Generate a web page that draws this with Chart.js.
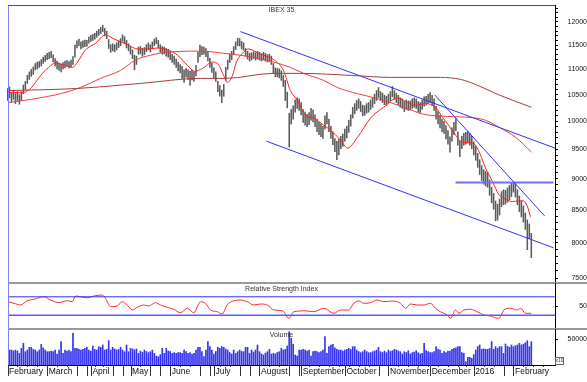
<!DOCTYPE html>
<html>
<head>
<meta charset="utf-8">
<script src="https://cdn.jsdelivr.net/npm/chart.js@4.4.1/dist/chart.umd.min.js"></script>
<style>
  body { margin: 0; background: #fff; }
  #wrap { position: relative; width: 587px; height: 382px; }
  #wrap div { position: absolute; left: 0; width: 587px; }
</style>
</head>
<body>
<div id="wrap">
  <div style="top:0;height:284px"><canvas id="price"></canvas></div>
  <div style="top:283px;height:47px"><canvas id="rsi"></canvas></div>
  <div style="top:329px;height:53px"><canvas id="volume"></canvas></div>
</div>
<script>
// IBEX 35 daily bars, Feb 2 2015 .. Feb 11 2016 (one entry per trading day)
const lows = [
  10390, 10440, 10360, 10410, 10330, 10390, 10320, 10400, 10520, 10600,
  10720, 10800, 10860, 10900, 10990, 11010, 11040, 11070, 11120, 11160,
  11200, 11220, 11240, 11150, 11070, 11010, 10980, 10950, 11010, 11030,
  11060, 11030, 11050, 11100, 11250, 11440, 11490, 11420, 11450, 11470,
  11480, 11540, 11580, 11600, 11630, 11670, 11710, 11750, 11790, 11700,
  11640, 11430, 11350, 11380, 11360, 11400, 11450, 11490, 11580, 11530,
  11440, 11380, 11310, 11220, 10990, 11100, 11310, 11320, 11270, 11300,
  11360, 11400, 11360, 11420, 11490, 11530, 11440, 11350, 11310, 11320,
  11270, 11250, 11200, 11140, 11100, 11040, 10970, 10930, 10820, 10740,
  10850, 10800, 10680, 10790, 10760, 10870, 11140, 11260, 11300, 11310,
  11260, 11170, 11040, 10940, 10830, 10760, 10560, 10470, 10350, 10470,
  10780, 11000, 11140, 11200, 11300, 11410, 11490, 11480, 11420, 11390,
  11270, 11210, 11170, 11190, 11220, 11190, 11210, 11190, 11170, 11190,
  11170, 11150, 11160, 11100, 10920, 10850, 10850, 10830, 10780, 10660,
  10390, 10250, 9540, 9950, 10040, 10170, 10240, 10200, 10120, 9980,
  9930, 9900, 9940, 10020, 9990, 9900, 9810, 9760, 9720, 9690,
  9860, 9950, 9810, 9690, 9580, 9460, 9320, 9400, 9510, 9550,
  9640, 9700, 9800, 9910, 10060, 10140, 10200, 10240, 10180, 10100,
  10110, 10150, 10170, 10220, 10260, 10330, 10390, 10450, 10390, 10350,
  10310, 10300, 10340, 10390, 10460, 10410, 10350, 10310, 10260, 10240,
  10180, 10220, 10200, 10210, 10240, 10260, 10240, 10180, 10160, 10220,
  10280, 10300, 10340, 10350, 10300, 10200, 10040, 9950, 9880, 9810,
  9780, 9680, 9590, 9450, 9640, 9760, 9830, 9570, 9370, 9510,
  9570, 9590, 9610, 9570, 9510, 9400, 9310, 9190, 9070, 8970,
  8910, 8880, 8860, 8730, 8610, 8510, 8330, 8340, 8420, 8550,
  8580, 8590, 8620, 8660, 8710, 8780, 8700, 8580, 8470, 8390,
  8310, 8200, 7900, 8063, 7786
];
const highs = [
  10620, 10650, 10540, 10590, 10520, 10560, 10500, 10560, 10690, 10760,
  10880, 10950, 11000, 11050, 11120, 11150, 11160, 11200, 11250, 11290,
  11330, 11350, 11370, 11300, 11220, 11170, 11130, 11110, 11140, 11170,
  11180, 11160, 11190, 11260, 11500, 11590, 11630, 11570, 11590, 11610,
  11600, 11670, 11710, 11730, 11750, 11800, 11840, 11880, 11930, 11860,
  11800, 11620, 11510, 11530, 11510, 11550, 11590, 11640, 11720, 11680,
  11600, 11530, 11470, 11400, 11290, 11270, 11460, 11470, 11430, 11450,
  11510, 11550, 11510, 11570, 11630, 11660, 11600, 11510, 11470, 11460,
  11430, 11410, 11370, 11310, 11270, 11210, 11150, 11100, 11060, 10990,
  11020, 10990, 10960, 10990, 10950, 11080, 11350, 11500, 11470, 11460,
  11430, 11350, 11230, 11130, 11030, 10950, 10760, 10680, 10590, 10700,
  11040, 11190, 11310, 11370, 11470, 11570, 11650, 11640, 11580, 11550,
  11430, 11370, 11330, 11340, 11360, 11340, 11370, 11350, 11320, 11350,
  11330, 11300, 11310, 11270, 11120, 11030, 11020, 11010, 10970, 10880,
  10780, 10550, 10150, 10220, 10290, 10400, 10440, 10420, 10350, 10220,
  10170, 10130, 10160, 10240, 10210, 10120, 10040, 9980, 9950, 9910,
  10100, 10160, 10040, 9910, 9810, 9690, 9640, 9680, 9730, 9770,
  9860, 9910, 10020, 10120, 10260, 10330, 10390, 10420, 10370, 10300,
  10290, 10330, 10350, 10400, 10440, 10510, 10580, 10640, 10560, 10530,
  10490, 10470, 10510, 10560, 10660, 10580, 10530, 10490, 10440, 10420,
  10370, 10400, 10380, 10380, 10420, 10440, 10420, 10370, 10350, 10400,
  10460, 10470, 10510, 10540, 10490, 10420, 10280, 10180, 10110, 10040,
  10000, 9920, 9830, 9720, 9880, 9980, 10050, 9810, 9650, 9730,
  9780, 9800, 9820, 9780, 9730, 9630, 9550, 9430, 9320, 9220,
  9150, 9120, 9100, 8980, 8860, 8760, 8640, 8590, 8670, 8790,
  8820, 8810, 8850, 8890, 8930, 8940, 8920, 8820, 8720, 8640,
  8560, 8450, 8344, 8282, 8141
];
const volumes = [
  44900, 28800, 28800, 27000, 28800, 26900, 22400, 32100, 41700, 25600,
  28800, 34000, 34000, 30000, 28800, 25600, 28800, 39700, 33000, 28800,
  25600, 25600, 27000, 25600, 28800, 21200, 28800, 44900, 22400, 28800,
  27000, 28800, 25600, 60900,
  32100, 32100, 30000, 28800, 30100, 32100, 34000, 28800, 27000, 36500,
  30000, 28800, 35300, 34000, 38500, 28800, 30100, 46800, 28800, 34000,
  31000, 28800, 30000, 34000, 28800, 25600, 38500, 25600, 32100, 30800,
  29000, 30800, 22400, 26900, 24500, 28800, 26000, 23700, 25600, 28800,
  22400, 17300, 16000, 20000, 32100, 22400, 32100, 27000, 26000, 22400,
  23700, 22400, 23700, 24000, 22400, 28800, 25600, 22400, 24000, 21200,
  22400, 28800, 34000, 34000, 25600, 16000, 28800, 44900,
  35300, 28800, 21200, 26000, 34000, 32100, 35300, 34000, 30800, 28800,
  24000, 21200, 28800, 22400, 25600, 28800, 26000, 25600, 34000, 34000,
  22400, 28800, 25000, 28800, 38500, 25600, 21200, 19200, 23000, 25600,
  30100, 21200, 22400, 21200, 24000, 25600, 32100, 28800, 30000, 36500,
  64100, 51300, 40000, 19200, 17300, 28800,
  28800, 30100, 28800, 27000, 28800, 17300, 25600, 26900, 25600, 24000,
  25600, 28800, 54500,
  22400, 35300, 38500, 39700, 33000, 30100, 28800, 28800, 27000, 28800,
  30100, 32100, 30000, 35300, 35300, 28800, 26000, 23700, 25600, 28800,
  26000, 23700, 23700, 25600, 27000, 28800, 34000, 25600, 24000, 26900,
  23700, 28800, 26000, 27600, 30100, 28800, 27000, 25600, 21200, 25600,
  24000, 27600, 21200, 23700, 25000, 27600, 23700, 21200, 22400,
  41700,
  27600, 25600, 24000, 23700, 25600, 35300, 30000, 28800, 22400, 25600,
  24000, 26900, 26900, 30100, 32100, 33000, 35300, 35300, 23700, 22400,
  6400,
  14700, 14700, 12800, 20000, 28800, 35300, 38500, 30100, 31000, 30100,
  30100, 32100, 44900,
  30100, 35300, 32000, 35300, 35300, 22400, 40400, 36000, 34000, 38500,
  35300, 37000, 38500, 41700, 38500, 40000, 42900, 46800, 35300, 44900
];

// moving averages: day index / value
const maShortX = [0.5, 7.6, 11.6, 14.1, 17.6, 20.7, 24.2, 29.2, 32.8, 35.3, 39.3, 44.4, 49.4, 52.9, 57, 61, 65.5, 70.6, 75.6, 80.6, 85.7, 90.7, 94.3, 98.3, 103.3, 106.3, 108.9, 110.9, 113.4, 115.4, 118.4, 121.5, 126.5, 131.6, 135.1, 139.1, 142.6, 146.2, 150.2, 154.2, 159.3, 162.8, 167.9, 171.4, 176.4, 183, 189.5, 196.6, 201.6, 205.6, 210.7, 215.7, 219.3, 222.3, 225.8, 229.3, 234.4, 237.4, 240.9, 244.5, 247.5, 251, 254.5, 257.6, 260.1, 262.1, 263.6];
const maShortY = [10540, 10540, 10620, 10740, 10920, 11040, 11130, 11080, 11040, 11150, 11400, 11540, 11720, 11650, 11570, 11500, 11420, 11420, 11440, 11400, 11290, 11080, 10960, 11020, 11150, 11100, 10880, 10740, 10880, 11150, 11330, 11420, 11330, 11250, 11170, 10980, 10580, 10390, 10110, 10060, 9930, 9840, 9660, 9520, 9710, 10060, 10260, 10440, 10350, 10300, 10330, 10260, 10070, 9930, 9750, 9620, 9610, 9480, 9180, 8950, 8750, 8670, 8630, 8640, 8640, 8550, 8390];
const maMidX = [0.5, 11.6, 26.7, 36.8, 46.9, 57, 64.5, 72.1, 79.6, 97.3, 108.9, 126, 142.6, 149.2, 159.3, 166.3, 176.4, 188, 200.6, 209.7, 221.8, 233.4, 240.9, 248.5, 256, 264.1];
const maMidY = [10350, 10410, 10520, 10640, 10820, 10980, 11190, 11290, 11350, 11375, 11330, 11230, 11040, 10920, 10780, 10640, 10520, 10410, 10250, 10130, 10090, 10070, 10020, 9875, 9714, 9450];
const maLongX = [0.5, 34.3, 67, 97.3, 109.9, 134.1, 147.7, 172.9, 193, 218.2, 228.3, 235.9, 247.5, 264.1];
const maLongY = [10580, 10620, 10720, 10820, 10820, 10920, 10920, 10880, 10840, 10840, 10800, 10700, 10500, 10260];

// hand drawn trend lines: [x0, x1] / [y0, y1]
const trendUpperX = [117.4, 276.2], trendUpperY = [11790, 9517];
const trendLowerX = [130.5, 275.2], trendLowerY = [9642, 7928];
const trendSteepX = [215.2, 270.7], trendSteepY = [10500, 8406];
const levelX = [225.8, 275.2], levelY = [8938, 8938];

// RSI
const rsiX = [0.15, 3.2, 6.6, 9.9, 13.3, 18.3, 21.7, 25.9, 30.1, 32.6, 34.3, 36.8, 40.2, 43.5, 47.7, 49.4, 51.9, 55.3, 57.8, 60.3, 62.9, 65.4, 68.7, 71.2, 74.6, 77.1, 80.5, 83.8, 87.2, 90.6, 93.9, 97.3, 99.8, 102.3, 105.7, 108.2, 110.7, 114.1, 117.4, 120.8, 124.1, 127.5, 130.9, 134.2, 138.5, 141.8, 144.3, 147.7, 149.3, 154.4, 159.4, 164.5, 167.8, 172, 174.5, 177.1, 179.6, 183, 186.3, 189.7, 193.9, 198.1, 200.6, 203.1, 206.5, 209.8, 213.2, 215.7, 218.2, 221.6, 223.3, 225.8, 227.5, 230, 233.4, 236.7, 240.1, 243.4, 246.8, 248.1, 250.2, 253.5, 256.9, 258.6, 261.1, 264];
const rsiY = [59.3, 55.9, 52.2, 61.5, 64.6, 70.2, 63, 57.2, 61.5, 59.3, 71.7, 70.2, 68, 71.7, 73.9, 66.7, 48.5, 50, 59.3, 52.2, 41.3, 47.2, 52.2, 50, 57.2, 52.2, 47.2, 42.8, 35.4, 45, 35.4, 59.3, 55.9, 41.3, 37.6, 32.6, 52.2, 61.5, 63, 59.3, 52.2, 54.3, 52.2, 41.3, 39.8, 23.3, 37.6, 39.1, 39.8, 37.6, 45, 34.1, 41.3, 41.3, 55.9, 60.9, 55.9, 57.2, 63, 59.3, 60.9, 55.9, 45, 54.3, 52.2, 52.2, 55.9, 45, 37.6, 30.4, 23.3, 41.3, 34.1, 41.3, 42.8, 37.6, 30.4, 28.3, 23.3, 24.6, 41.3, 45, 41.3, 45, 34.1, 34.1];
const rsiLevels = [70, 30];

// axes
const priceLabels = [7500, 8000, 8500, 9000, 9500, 10000, 10500, 11000, 11500, 12000];
const rsiLabels = [50];
const volumeLabels = [50000];
const monthTicks = [0, 20, 42, 62, 82, 104, 127, 148, 170, 192, 213, 235, 255];
const monthLabels = ['February', 'March', 'April', 'May', 'June', 'July', 'August', 'September', 'October', 'November', 'December', '2016', 'February'];
const weekTicks = [0, 5, 10, 15, 20, 25, 30, 35, 40, 44, 48, 53, 58, 62, 67, 72, 77, 82, 87, 92, 97, 102, 107, 112, 117, 122, 127, 132, 137, 142, 147, 152, 157, 162, 167, 172, 177, 182, 187, 192, 197, 202, 207, 212, 217, 222, 227, 231, 235, 240, 245, 250, 255, 260, 265, 270];

const xMin = 0.25, xMax = 275.95;
const FONT = "'Liberation Sans', Arial, sans-serif";
Chart.defaults.font.family = FONT;
Chart.defaults.animation = false;

function pts(xs, ys) {
  return xs.map((x, k) => ({ x: x, y: ys[k] }));
}

function line(xs, ys, color, width) {
  return {
    type: 'line', data: pts(xs, ys), borderColor: color, borderWidth: width || 1,
    pointRadius: 0, cubicInterpolationMode: 'monotone', fill: false
  };
}

function hiddenX() {
  return { type: 'linear', display: false, min: xMin, max: xMax, offset: false };
}

function rightAxis(extra) {
  return Object.assign({
    position: 'right',
    afterFit: (axis) => { axis.width = 32; axis.paddingTop = 0; axis.paddingBottom = 0; },
    grid: { drawOnChartArea: false, tickLength: 3, color: '#000' },
    border: { color: '#000' },
  }, extra);
}

// frame, separators and panel titles
function framePlugin(opts) {
  return {
    id: 'frame',
    beforeDraw(chart) {
      if (!opts.weekTicks) return;
      const { ctx, chartArea: a } = chart;
      const x = chart.scales.x;
      ctx.save();
      ctx.strokeStyle = '#333';
      ctx.lineWidth = 1;
      weekTicks.forEach((w) => {
        const px = Math.round(x.getPixelForValue(w)) + 0.5;
        ctx.beginPath(); ctx.moveTo(px, a.bottom); ctx.lineTo(px, a.bottom + 11); ctx.stroke();
      });
      ctx.restore();
    },
    afterDraw(chart) {
      const { ctx, chartArea: a } = chart;
      ctx.save();
      ctx.lineWidth = 1;
      ctx.strokeStyle = '#8080ff';
      ctx.beginPath(); ctx.moveTo(a.left + 0.5, a.top); ctx.lineTo(a.left + 0.5, a.bottom); ctx.stroke();
      if (opts.topLine) {
        ctx.strokeStyle = '#3c3cff';
        ctx.beginPath(); ctx.moveTo(a.left, a.top + 0.5); ctx.lineTo(a.right, a.top + 0.5); ctx.stroke();
      }
      if (opts.bottomSep) {
        ctx.strokeStyle = '#9a9a9a';
        ctx.lineWidth = 2;
        ctx.beginPath(); ctx.moveTo(a.left, a.bottom); ctx.lineTo(chart.width, a.bottom); ctx.stroke();
        ctx.lineWidth = 1;
      }
      if (opts.weekTicks) {
        const x = chart.scales.x;
        ctx.strokeStyle = '#333';
        monthTicks.forEach((m) => {
          const px = Math.round(x.getPixelForValue(m)) + 0.5;
          ctx.beginPath(); ctx.moveTo(px, a.bottom); ctx.lineTo(px, a.bottom + 11); ctx.stroke();
        });
        // "x10" multiplier box
        ctx.strokeStyle = '#666';
        ctx.strokeRect(a.right + 0.5, a.bottom - 7.5, 8, 7);
        ctx.fillStyle = '#333';
        ctx.font = '5px ' + FONT;
        ctx.textAlign = 'center';
        ctx.textBaseline = 'middle';
        ctx.fillText('x10', a.right + 4.5, a.bottom - 4);
      }
      if (opts.title) {
        ctx.fillStyle = '#333';
        ctx.font = '7px ' + FONT;
        ctx.textAlign = 'center';
        ctx.textBaseline = 'middle';
        ctx.fillText(opts.title, (a.left + a.right) / 2, a.top + opts.titleY);
      }
      ctx.restore();
    }
  };
}

// price panel
new Chart(document.getElementById('price'), {
  type: 'bar',
  data: {
    datasets: [
      line(trendUpperX, trendUpperY, '#3030ff'),
      line(trendLowerX, trendLowerY, '#3030ff'),
      line(trendSteepX, trendSteepY, '#3030ff'),
      line(levelX, levelY, '#7070ff', 2),
      line(maLongX, maLongY, '#a33c3c'),
      line(maMidX, maMidY, '#f03c3c'),
      line(maShortX, maShortY, '#ff1e1e'),
      {
        type: 'bar', data: lows.map((lo, i) => ({ x: i, y: [lo, highs[i]] })),
        backgroundColor: '#5a5a5a', barThickness: 0.9, clip: 1
      }
    ]
  },
  options: {
    responsive: true, maintainAspectRatio: false,
    layout: { padding: { left: 8, top: 5, right: 0, bottom: 1 } },
    plugins: { legend: { display: false }, tooltip: { enabled: false } },
    scales: {
      x: hiddenX(),
      y: rightAxis({
        type: 'logarithmic', min: 7432, max: 12380,
        afterBuildTicks: (axis) => {
          const t = [];
          for (let v = 7500; v <= 12300; v += 100) t.push({ value: v });
          axis.ticks = t;
        },
        ticks: {
          autoSkip: false, crossAlign: 'far', padding: 2.5, color: '#111', font: { size: 7 },
          callback: (v) => (priceLabels.includes(v) ? String(v) : '')
        }
      })
    }
  },
  plugins: [framePlugin({ topLine: true, bottomSep: true, title: 'IBEX 35', titleY: 5 })]
});

// RSI panel
new Chart(document.getElementById('rsi'), {
  type: 'line',
  data: {
    datasets: [
      line([xMin, xMax], [rsiLevels[0], rsiLevels[0]], '#3030ff'),
      line([xMin, xMax], [rsiLevels[1], rsiLevels[1]], '#5a5aff', 1.5),
      line(rsiX, rsiY, '#ff2a2a')
    ]
  },
  options: {
    responsive: true, maintainAspectRatio: false,
    layout: { padding: { left: 8, top: 0, right: 0, bottom: 1 } },
    plugins: { legend: { display: false }, tooltip: { enabled: false } },
    scales: {
      x: hiddenX(),
      y: rightAxis({
        type: 'linear', min: 0, max: 100,
        afterBuildTicks: (axis) => { axis.ticks = rsiLabels.map((v) => ({ value: v })); },
        ticks: { crossAlign: 'far', padding: 14.2, color: '#111', font: { size: 7 } }
      })
    }
  },
  plugins: [framePlugin({ bottomSep: true, title: 'Relative Strength Index', titleY: 6.3 })]
});

// volume panel with the date axis
new Chart(document.getElementById('volume'), {
  type: 'bar',
  data: {
    datasets: [{
      data: volumes.map((v, i) => ({ x: i, y: v })),
      backgroundColor: '#3434f2', barThickness: 1
    }]
  },
  options: {
    responsive: true, maintainAspectRatio: false,
    layout: { padding: { left: 8, top: 0, right: 0, bottom: 0 } },
    plugins: { legend: { display: false }, tooltip: { enabled: false } },
    scales: {
      x: {
        type: 'linear', min: xMin, max: xMax, offset: false,
        afterBuildTicks: (axis) => { axis.ticks = monthTicks.map((m) => ({ value: m + 0.8 })); },
        afterFit: (axis) => { axis.height = 17; axis.paddingLeft = 0; axis.paddingRight = 0; },
        grid: { display: false, drawTicks: false },
        border: { display: true, color: '#000' },
        ticks: {
          autoSkip: false, maxRotation: 0, align: 'start', padding: 2, color: '#111',
          font: { size: 8.5 },
          showLabelBackdrop: true, backdropColor: '#fff',
          backdropPadding: { left: 1, right: 1, top: 0, bottom: 0 },
          callback: (v, idx) => monthLabels[idx]
        }
      },
      y: rightAxis({
        type: 'linear', min: 0, max: 69231,
        afterBuildTicks: (axis) => { axis.ticks = volumeLabels.map((v) => ({ value: v })); },
        ticks: { crossAlign: 'far', padding: 2.5, color: '#111', font: { size: 7 }, callback: (v) => String(v) }
      })
    }
  },
  plugins: [framePlugin({ weekTicks: true, title: 'Volume', titleY: 6 })]
});
</script>
</body>
</html>
